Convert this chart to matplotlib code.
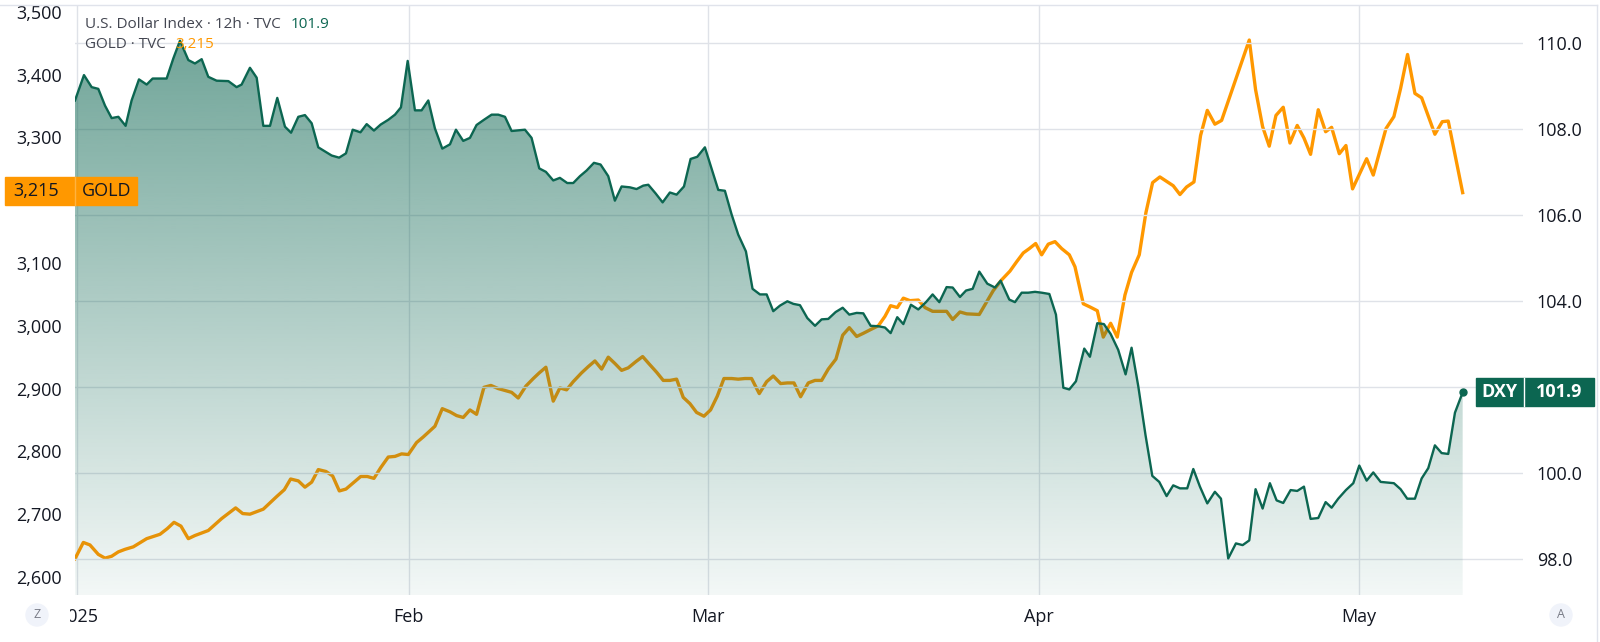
import numpy as np
import pandas as pd
import matplotlib
matplotlib.use('Agg')
import matplotlib.pyplot as plt
import matplotlib.dates as mdates
from matplotlib.patches import Rectangle, Ellipse
from matplotlib.lines import Line2D
from matplotlib.colors import to_rgb

plt.rcParams['font.family'] = ['Open Sans', 'DejaVu Sans']

# --- data (days counted from 2025-01-01, 12h bars) ---
start = pd.Timestamp('2025-01-01')

dxy_day = [-0.23, 0.61, 1.33, 1.95, 2.58, 3.20, 3.83, 4.51, 5.07, 5.76, 6.48, 7.04, 8.35, 8.98,
           9.60, 10.38, 11.00, 11.63, 12.25, 13.03, 14.13, 14.90, 15.37, 16.15, 16.78, 17.40,
           18.03, 18.71, 19.43, 20.00, 20.68, 21.30, 21.93, 22.55, 23.80, 24.50, 25.14, 25.77,
           26.50, 27.08, 27.76, 28.39, 29.10, 29.73, 30.29, 30.92, 31.60, 32.22, 32.85, 33.47,
           34.16, 34.88, 35.44, 36.12, 36.75, 37.37, 38.06, 38.78, 39.40, 40.03, 40.65, 41.90,
           42.52, 43.24, 43.86, 44.55, 45.17, 45.86, 46.42, 47.05, 47.67, 48.36, 48.98, 49.70,
           50.32, 50.95, 51.73, 52.35, 52.98, 53.45, 54.13, 54.79, 55.47, 56.10, 56.79, 57.41,
           58.03, 58.75, 59.38, 60.00, 60.62, 61.25, 61.87, 62.59, 63.21, 63.90, 64.53, 65.15,
           65.78, 66.47, 67.03, 67.65, 68.34, 69.06, 69.68, 70.30, 70.99, 71.65, 72.27, 72.96,
           73.58, 74.27, 74.99, 75.61, 76.14, 76.76, 77.33, 78.04, 78.73, 79.45, 80.07, 80.70,
           81.38, 81.95, 82.63, 83.20, 83.82, 84.44, 85.19, 85.91, 86.44, 87.25, 87.78, 88.41,
           89.03, 89.66, 90.28, 91.00, 91.62, 92.31, 92.87, 93.49, 94.27, 94.80, 95.49, 96.11,
           96.74, 97.45, 98.14, 98.70, 99.33, 100.01, 100.64, 101.29, 101.98, 102.60, 103.23,
           103.91, 104.48, 105.10, 105.79, 106.50, 107.07, 107.75, 108.47, 109.10, 109.72,
           110.31, 110.97, 111.65, 112.28, 112.90, 113.59, 114.21, 114.84, 115.46, 116.18,
           116.87, 117.43, 118.05, 118.77, 119.46, 120.02, 120.71, 121.33, 122.02, 123.26,
           123.89, 124.51, 125.23, 125.86, 126.48, 127.10, 127.73, 128.35, 128.98, 129.70]
dxy_val = [108.67, 109.26, 108.98, 108.94, 108.55, 108.26, 108.29, 108.08, 108.67, 109.16, 109.04,
           109.18, 109.18, 109.65, 110.06, 109.61, 109.53, 109.63, 109.22, 109.13, 109.12, 108.98,
           109.04, 109.43, 109.20, 108.08, 108.08, 108.73, 108.06, 107.92, 108.29, 108.33, 108.14,
           107.58, 107.39, 107.34, 107.44, 107.99, 107.93, 108.12, 107.97, 108.11, 108.22, 108.34,
           108.51, 109.59, 108.44, 108.44, 108.67, 108.02, 107.55, 107.65, 107.99, 107.73, 107.80,
           108.10, 108.22, 108.34, 108.34, 108.29, 107.96, 107.99, 107.80, 107.09, 107.01, 106.81,
           106.87, 106.75, 106.75, 106.91, 107.04, 107.22, 107.18, 106.91, 106.34, 106.67, 106.65,
           106.61, 106.69, 106.71, 106.51, 106.30, 106.53, 106.48, 106.67, 107.31, 107.36, 107.58,
           107.08, 106.59, 106.57, 106.02, 105.55, 105.16, 104.29, 104.16, 104.16, 103.77, 103.90,
           104.00, 103.94, 103.91, 103.61, 103.43, 103.58, 103.59, 103.75, 103.85, 103.69, 103.73,
           103.72, 103.43, 103.42, 103.39, 103.26, 103.63, 103.47, 103.92, 103.81, 103.98, 104.16,
           103.98, 104.33, 104.32, 104.10, 104.25, 104.29, 104.69, 104.41, 104.32, 104.48, 104.04,
           103.98, 104.20, 104.20, 104.22, 104.20, 104.17, 103.69, 101.99, 101.95, 102.14, 102.90,
           102.71, 103.49, 103.47, 103.24, 102.87, 102.30, 102.92, 102.02, 100.88, 99.94, 99.80,
           99.47, 99.72, 99.65, 99.65, 100.10, 99.69, 99.30, 99.57, 99.41, 98.02, 98.37, 98.33,
           98.44, 99.63, 99.18, 99.77, 99.37, 99.31, 99.61, 99.59, 99.69, 98.94, 98.96, 99.33,
           99.20, 99.41, 99.61, 99.77, 100.18, 99.83, 100.02, 99.80, 99.77, 99.63, 99.41, 99.41,
           99.88, 100.12, 100.65, 100.47, 100.45, 101.41, 101.88]

gold_day = [-0.23, 0.55, 1.17, 1.95, 2.58, 3.20, 3.83, 4.45, 5.23, 6.48, 7.73, 8.41, 9.04, 9.69,
            10.38, 11.00, 12.25, 13.50, 14.81, 15.47, 16.15, 17.40, 18.65, 19.37, 19.96, 20.68,
            21.30, 21.93, 22.55, 23.27, 23.89, 24.52, 25.14, 25.83, 26.52, 27.14, 27.76, 28.39,
            29.10, 29.73, 30.35, 30.98, 31.75, 32.38, 33.47, 34.16, 34.88, 35.50, 36.12, 36.75,
            37.37, 38.06, 38.71, 39.40, 40.03, 40.65, 41.27, 41.99, 42.68, 43.24, 43.86, 44.55,
            45.17, 45.80, 46.42, 47.20, 47.83, 48.45, 49.08, 49.70, 50.32, 50.95, 51.57, 52.29,
            52.92, 53.54, 54.23, 54.85, 55.47, 56.10, 56.72, 57.35, 57.97, 58.66, 59.28, 59.91,
            60.53, 61.25, 61.87, 62.50, 63.12, 63.84, 64.53, 65.15, 65.84, 66.47, 67.09, 67.71,
            68.43, 69.06, 69.68, 70.30, 71.02, 71.65, 72.27, 72.96, 73.58, 74.27, 74.99, 75.61,
            76.14, 76.76, 77.33, 77.95, 78.73, 79.36, 80.07, 80.70, 81.38, 81.95, 82.63, 83.26,
            84.44, 85.13, 85.75, 86.53, 87.31, 87.94, 88.56, 89.13, 89.72, 90.28, 90.90, 91.53,
            92.15, 92.87, 93.40, 94.18, 94.80, 95.49, 96.05, 96.74, 97.36, 98.08, 98.70, 99.42,
            100.04, 100.67, 101.35, 102.60, 103.23, 103.85, 104.54, 105.16, 105.79, 106.50,
            107.13, 109.72, 110.31, 110.97, 111.59, 112.22, 112.90, 113.53, 114.21, 114.84,
            115.46, 116.18, 116.87, 117.43, 118.15, 118.77, 119.39, 120.71, 121.33, 122.52,
            123.26, 123.89, 124.54, 125.23, 125.86, 127.10, 127.79, 128.35, 129.70]
gold_val = [2629, 2655, 2651, 2636, 2630, 2633, 2640, 2644, 2648, 2661, 2668, 2677, 2687, 2681,
            2661, 2666, 2674, 2693, 2710, 2701, 2700, 2708, 2728, 2739, 2756, 2753, 2743, 2751,
            2771, 2768, 2761, 2737, 2740, 2750, 2760, 2760, 2757, 2774, 2791, 2792, 2796, 2795,
            2814, 2823, 2840, 2868, 2863, 2857, 2854, 2866, 2859, 2902, 2905, 2900, 2897, 2894,
            2885, 2904, 2916, 2925, 2934, 2880, 2901, 2898, 2911, 2925, 2935, 2944, 2931, 2950,
            2940, 2929, 2933, 2943, 2951, 2939, 2926, 2913, 2913, 2915, 2886, 2876, 2862, 2856,
            2866, 2888, 2916, 2916, 2915, 2916, 2916, 2892, 2911, 2920, 2908, 2909, 2909, 2887,
            2909, 2913, 2913, 2931, 2947, 2985, 2997, 2983, 2988, 2994, 3000, 3015, 3032, 3029,
            3044, 3040, 3041, 3029, 3023, 3023, 3023, 3010, 3022, 3019, 3018, 3038, 3056, 3073,
            3087, 3102, 3116, 3123, 3131, 3113, 3130, 3134, 3123, 3113, 3094, 3035, 3030, 3024,
            2982, 3004, 2982, 3049, 3085, 3113, 3180, 3228, 3237, 3223, 3209, 3221, 3229, 3303,
            3343, 3321, 3327, 3455, 3376, 3317, 3286, 3335, 3348, 3291, 3319, 3299, 3273, 3344,
            3309, 3316, 3274, 3287, 3218, 3266, 3240, 3314, 3333, 3378, 3432, 3370, 3363, 3305,
            3325, 3326, 3212]

month_ticks = ['2025-01-01', '2025-02-01', '2025-03-01', '2025-04-01', '2025-05-01']
month_labels = ['2025', 'Feb', 'Mar', 'Apr', 'May']
# 3,200 sits behind the GOLD price badge, so it is not labelled
gold_ticks = [2600, 2700, 2800, 2900, 3000, 3100, 3300, 3400, 3500]
dxy_ticks = [98, 100, 102, 104, 106, 108, 110]
gold_last = 3215
dxy_last = 101.9

dxy_color = '#0c6651'
gold_color = '#ff9800'
grid_color = '#dfe2e8'
text_color = '#131722'


def to_num(days):
    return mdates.date2num(start + pd.to_timedelta(np.array(days), unit='D'))


dx = to_num(dxy_day)
gx = to_num(gold_day)

W, H = 1600, 642
fig = plt.figure(figsize=(W / 100, H / 100), dpi=100)
ax = fig.add_axes([75 / W, 1 - 595 / H, (1523 - 75) / W, (595 - 5) / H])
ax2 = ax.twinx()

xlim = (to_num([-0.23])[0], to_num([135.35])[0])
gold_lim = (2571.3, 3510.8)
dxy_lim = (97.17, 110.89)

# gold line (left scale), drawn underneath the DXY area
ax.plot(gx, gold_val, color=gold_color, lw=2.4, solid_joinstyle='round', zorder=2)

# DXY area with vertical gradient
rgb = np.array(to_rgb(dxy_color))
grad = np.zeros((256, 1, 4))
grad[:, 0, :3] = rgb
grad[:, 0, 3] = np.linspace(0.62, 0.05, 256)
im = ax2.imshow(grad, extent=[xlim[0], xlim[1], dxy_lim[0], dxy_lim[1]], aspect='auto',
                origin='upper', interpolation='bilinear', zorder=1)
poly = ax2.fill_between(dx, dxy_val, dxy_lim[0], facecolor='none', edgecolor='none')
im.set_clip_path(poly.get_paths()[0], transform=ax2.transData)
ax2.plot(dx, dxy_val, color=dxy_color, lw=1.7, solid_joinstyle='round', zorder=3)
ax2.plot(dx[-1], dxy_val[-1], 'o', color=dxy_color, ms=5, zorder=4)

ax.set_xlim(xlim)
ax.set_ylim(gold_lim)
ax2.set_ylim(dxy_lim)

# grids: vertical from time axis, horizontal from the DXY scale
ax.set_xticks(mdates.date2num(pd.to_datetime(month_ticks)))
ax.set_xticklabels(month_labels)
ax.grid(axis='x', color=grid_color, lw=1)
ax.set_axisbelow(True)
ax2.set_yticks(dxy_ticks)
ax2.set_yticklabels([f'{v:.1f}' for v in dxy_ticks])
ax2.grid(axis='y', color=grid_color, lw=1)
ax2.set_axisbelow(True)

ax.set_yticks(gold_ticks)
ax.set_yticklabels([f'{v:,}' for v in gold_ticks])

for a in (ax, ax2):
    for s in a.spines.values():
        s.set_visible(False)
ax.tick_params(axis='y', length=0, pad=9.5, labelsize=13, labelcolor=text_color)
ax2.tick_params(axis='y', length=0, pad=10, labelsize=13, labelcolor=text_color)
ax.tick_params(axis='x', length=0, pad=9, labelsize=13, labelcolor=text_color)

# year label is cut by the left price scale
ax.get_xticklabels()[0].set_clip_path(Rectangle((70 / W, 0), 1, 1, transform=fig.transFigure))

# frame lines of the widget
fig.add_artist(Line2D([0, 1597 / W], [1 - 5 / H, 1 - 5 / H], color='#e0e3eb', lw=1))
fig.add_artist(Line2D([1597 / W, 1597 / W], [1 - 5 / H, 0], color='#e0e3eb', lw=1))


# last-value badges
def fig_y(axis, value):
    return fig.transFigure.inverted().transform(axis.transData.transform((xlim[0], value)))[1]


bh = 28 / H
gy = fig_y(ax, gold_last)
fig.add_artist(Rectangle((5 / W, gy - bh / 2), 132 / W, bh, color=gold_color, zorder=5))
fig.add_artist(Line2D([75 / W, 75 / W], [gy - bh / 2, gy + bh / 2], color='#ffb340', lw=1, zorder=6))
fig.text(13 / W, gy, f'{gold_last:,}', fontsize=13, color=text_color, va='center', ha='left', zorder=7)
fig.text(82 / W, gy, 'GOLD', fontsize=13, color=text_color, va='center', ha='left', zorder=7)

dy = fig_y(ax2, dxy_last)
fig.add_artist(Rectangle((1476 / W, dy - bh / 2), 118 / W, bh, color=dxy_color, zorder=5))
fig.add_artist(Line2D([1523.5 / W, 1523.5 / W], [dy - bh / 2, dy + bh / 2], color='white', lw=1, zorder=6))
fig.text(1499.5 / W, dy, 'DXY', fontsize=13, color='white', weight='bold', va='center', ha='center', zorder=7)
fig.text(1559 / W, dy, f'{dxy_last:.1f}', fontsize=13, color='white', weight='bold',
         va='center', ha='center', zorder=7)

# legend lines at the top left
renderer = fig.canvas.get_renderer()
t1 = fig.text(85 / W, 1 - 25 / H, 'U.S. Dollar Index · 12h · TVC', fontsize=11, color='#434651', va='center')
x_end = fig.transFigure.inverted().transform(t1.get_window_extent(renderer))[1, 0]
fig.text(x_end + 10 / W, 1 - 25 / H, f'{dxy_last:.1f}', fontsize=11, color=dxy_color, va='center')
t2 = fig.text(85 / W, 1 - 45 / H, 'GOLD · TVC', fontsize=11, color='#434651', va='center')
x_end = fig.transFigure.inverted().transform(t2.get_window_extent(renderer))[1, 0]
fig.text(x_end + 10 / W, 1 - 45 / H, f'{gold_last:,}', fontsize=11, color=gold_color, va='center')

# small round buttons on the time axis
for bx, letter in [(37, 'Z'), (1561, 'A')]:
    fig.add_artist(Ellipse((bx / W, 1 - 615 / H), 22 / W, 22 / H, transform=fig.transFigure,
                           color='#f0f3fa', zorder=5))
    fig.text(bx / W, 1 - 615 / H, letter, fontsize=9, color='#787b86', ha='center', va='center', zorder=6)

fig.savefig('out.png', dpi=100)
